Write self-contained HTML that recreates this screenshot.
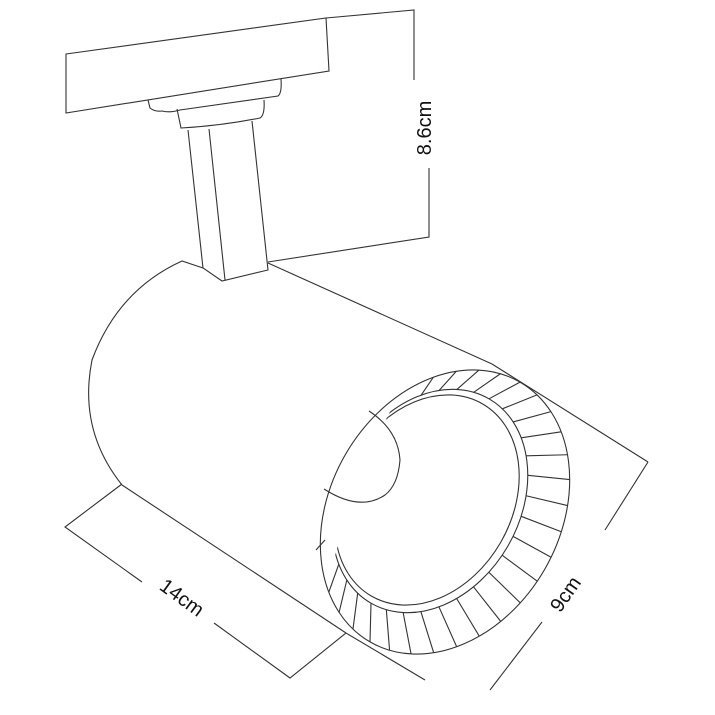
<!DOCTYPE html>
<html><head><meta charset="utf-8"><style>
html,body{margin:0;padding:0;background:#fff;}
svg{display:block;}
text{font-family:"Liberation Sans",sans-serif;fill:#111;}
</style></head><body>
<svg id="s" width="715" height="715" viewBox="0 0 715 715" xmlns="http://www.w3.org/2000/svg">
<defs>
<clipPath id="rc"><polygon points="398,250 715,250 715,715 290,715 332,566 360,470 397,398"/></clipPath>
</defs>
<g fill="none" stroke="#333" stroke-width="1.1">
<polygon points="66,54 326,18 329,71 66,113" fill="#fff"/>
<polyline points="326,18 414,10 414,80"/>
<polyline points="429,168 429,237 268,262"/>
<path d="M148,100 L150,108 Q155,112 162,111 Q170,113 180,110 L278,96 Q282,93 281,79"/>
<path d="M177,109 L181,128 Q220,126 260,118 Q265,115 264,100"/>
<polyline points="188,130 203,268 222,281 268,270 252,121"/>
<line x1="209" y1="129" x2="225" y2="280"/>
<path d="M203,268 L182,261 Q118,290 92,360 Q78,430 122,485"/>
<line x1="268" y1="263" x2="492" y2="364"/>
<line x1="492" y1="364" x2="648" y2="462"/>
<line x1="122" y1="485" x2="346" y2="633"/>
<polyline points="122,484 65,527 142,582"/>
<polyline points="214,623 290,678 346,633 425,680"/>
<polyline points="648,462 605,530"/>
<line x1="542" y1="622" x2="490" y2="690"/>
<ellipse cx="445" cy="512" rx="115" ry="150" transform="rotate(30 445 512)" fill="#fff"/>
<g clip-path="url(#rc)">
<ellipse cx="430" cy="501" rx="90" ry="118" transform="rotate(30 430 501)"/>
<ellipse cx="427" cy="500" rx="85" ry="111" transform="rotate(30 427 500)"/>
</g>
<path d="M369,411 Q398,430 400,460 Q398,485 385,495 Q360,512 324,489"/>
<line x1="316" y1="550" x2="325" y2="540"/>
<g id="h"></g>
</g>
<text x="0" y="0" font-size="20" transform="translate(431,128) rotate(-90)" text-anchor="middle">8.6cm</text>
<text x="0" y="0" font-size="20" transform="translate(178,603) rotate(36)" text-anchor="middle">14cm</text>
<text x="0" y="0" font-size="20" transform="translate(571,598) rotate(-55)" text-anchor="middle">9cm</text>
</svg>
<script>
(function(){
var g=document.getElementById('h'),ns='http://www.w3.org/2000/svg';
function pt(cx,cy,rx,ry,t){var c=Math.cos(Math.PI/6),s=Math.sin(Math.PI/6);var x=rx*Math.cos(t),y=ry*Math.sin(t);return [cx+x*c-y*s,cy+x*s+y*c];}
var N=34;
for(var i=0;i<N;i++){
var t=(i+0.5)/N*2*Math.PI;
var o=pt(445,512,115,150,t),n=pt(430,501,90,118,t);
var a=Math.atan2(o[1]-512,o[0]-445)*180/Math.PI;
if(a<-100||a>152)continue;
var l=document.createElementNS(ns,'line');
l.setAttribute('x1',n[0]);l.setAttribute('y1',n[1]);l.setAttribute('x2',o[0]);l.setAttribute('y2',o[1]);
g.appendChild(l);}
})();
</script>
</body></html>
